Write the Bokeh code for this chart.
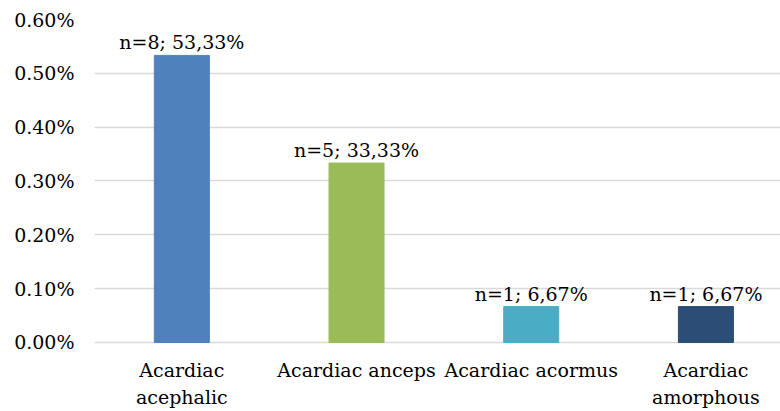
from bokeh.plotting import figure
from bokeh.models import ColumnDataSource, Range1d, FixedTicker, PrintfTickFormatter
from bokeh.embed import file_html
from bokeh.resources import INLINE
from bokeh.core.properties import value

categories = ["Acardiac\nacephalic", "Acardiac anceps", "Acardiac acormus", "Acardiac\namorphous"]
values = [0.5333, 0.3333, 0.0667, 0.0667]
labels = ["n=8; 53,33%", "n=5; 33,33%", "n=1; 6,67%", "n=1; 6,67%"]
colors = ["#4F81BD", "#9BBB59", "#4BACC6", "#2C4D75"]
y_ticks = [0.0, 0.1, 0.2, 0.3, 0.4, 0.5, 0.6]

FONT = "DejaVu Serif"
FS = "19px"

xs = list(range(len(categories)))
src = ColumnDataSource(dict(x=xs, top=values, color=colors, label=labels))
cat_src = ColumnDataSource(dict(x=xs, y=[0] * len(xs), cat=categories))

p = figure(width=780, height=411, output_backend="svg", toolbar_location=None,
           x_range=Range1d(-0.5, 3.427), y_range=Range1d(-0.1282, 0.6),
           min_border_left=94, min_border_right=0, min_border_top=19, min_border_bottom=0)
p.outline_line_color = None
p.background_fill_color = "white"
p.border_fill_color = "white"

p.vbar(x="x", top="top", bottom=0, width=0.315, color="color", source=src)
p.text(x="x", y="top", text="label", source=src, text_align="center",
       text_baseline="alphabetic", y_offset=-13, text_font=value(FONT),
       text_font_size=FS, text_color="#000000")
p.text(x="x", y="y", text="cat", source=cat_src, text_align="center",
       text_baseline="top", y_offset=17, text_line_height=1.2,
       text_font=value(FONT), text_font_size=FS, text_color="#000000")

p.xgrid.grid_line_color = None
p.ygrid.grid_line_color = "#D9D9D9"
p.ygrid.grid_line_width = 1.4
p.ygrid.ticker = FixedTicker(ticks=y_ticks)

p.xaxis.visible = False

p.yaxis.ticker = FixedTicker(ticks=y_ticks)
p.yaxis.formatter = PrintfTickFormatter(format="%.2f%%")
p.yaxis.axis_line_color = None
p.yaxis.major_tick_line_color = None
p.yaxis.minor_tick_line_color = None
p.yaxis.major_tick_out = 0
p.yaxis.major_label_standoff = 20
p.yaxis.major_label_text_font = FONT
p.yaxis.major_label_text_font_size = FS
p.yaxis.major_label_text_color = "#000000"

open("out.html", "w").write(file_html(p, INLINE))
